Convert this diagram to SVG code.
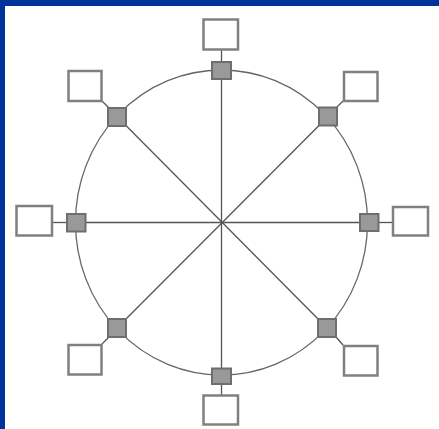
<svg xmlns="http://www.w3.org/2000/svg" width="439" height="429" viewBox="0 0 439 429">
<style>
.box{fill:#fff;stroke:#808080;stroke-width:2.5}
.sq{fill:#999;stroke:#6e6e6e;stroke-width:2}
.ln{stroke:#555;stroke-width:1.3;fill:none}
.ring{stroke:#666;stroke-width:1.3;fill:none}
</style>
<rect x="0" y="0" width="439" height="429" fill="#fff"/>
<rect x="0" y="0" width="439" height="6" fill="#003399"/>
<rect x="0" y="0" width="5" height="429" fill="#003399"/>
<g id="connectors">
<ellipse class="ring" cx="221.5" cy="222.5" rx="146" ry="152.5"/>
<line class="ln" x1="221.5" y1="70" x2="221.5" y2="376"/>
<line class="ln" x1="76" y1="222.5" x2="369" y2="222.5"/>
<line class="ln" x1="117" y1="116.5" x2="327" y2="328"/>
<line class="ln" x1="328" y1="116.5" x2="117" y2="328"/>
<line class="ln" x1="221.5" y1="50" x2="221.5" y2="62"/>
<line class="ln" x1="221.5" y1="384" x2="221.5" y2="395"/>
<line class="ln" x1="53" y1="222.5" x2="66" y2="222.5"/>
<line class="ln" x1="379" y1="222.5" x2="392" y2="222.5"/>
<line class="ln" x1="102" y1="101" x2="109" y2="108"/>
<line class="ln" x1="343" y1="101" x2="336" y2="108"/>
<line class="ln" x1="102" y1="344" x2="109" y2="337"/>
<line class="ln" x1="343" y1="345" x2="336" y2="337"/>
</g>
<g id="n-top"><rect class="box" x="203.5" y="19.5" width="34.5" height="30"/><rect class="sq" x="212" y="62" width="19" height="17"/></g>
<g id="n-bottom"><rect class="box" x="203.5" y="395.5" width="34.5" height="29"/><rect class="sq" x="212" y="368.5" width="19" height="15.5"/></g>
<g id="n-left"><rect class="box" x="16.5" y="206" width="35.5" height="29.5"/><rect class="sq" x="67" y="214" width="18.5" height="17.5"/></g>
<g id="n-right"><rect class="box" x="393" y="207" width="35" height="28.5"/><rect class="sq" x="360" y="214" width="18.5" height="17"/></g>
<g id="n-ul"><rect class="box" x="68.5" y="71" width="33" height="30"/><rect class="sq" x="108" y="108" width="18" height="18"/></g>
<g id="n-ur"><rect class="box" x="344" y="72" width="33.5" height="29"/><rect class="sq" x="319" y="107.5" width="18" height="18"/></g>
<g id="n-ll"><rect class="box" x="68.5" y="345" width="33" height="29.5"/><rect class="sq" x="108" y="319" width="18" height="18"/></g>
<g id="n-lr"><rect class="box" x="344" y="346" width="33.5" height="29.5"/><rect class="sq" x="318" y="319" width="18" height="18"/></g>
</svg>
